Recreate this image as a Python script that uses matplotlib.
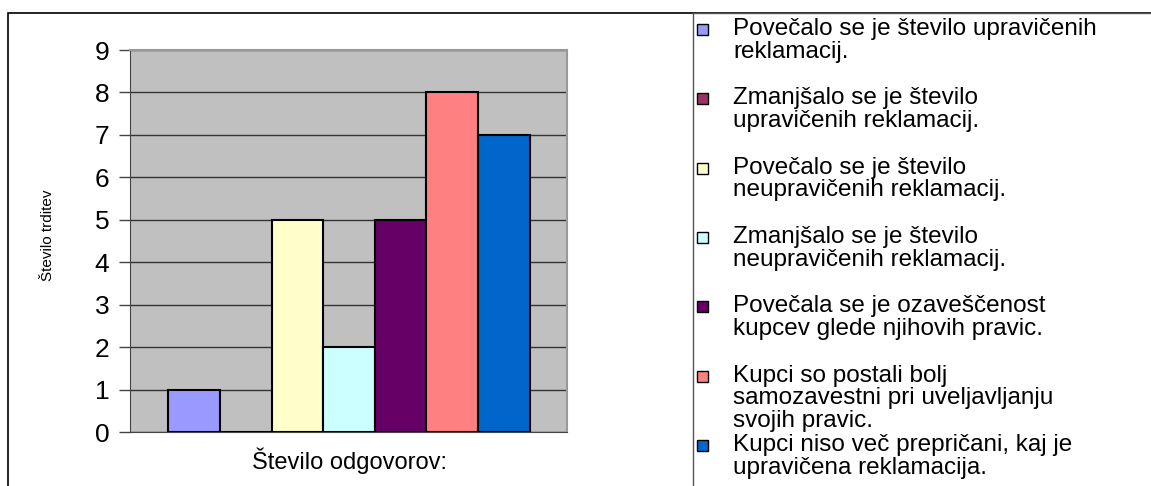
import matplotlib.pyplot as plt
from matplotlib.patches import Rectangle

plt.rcParams['font.family'] = ['Liberation Sans', 'DejaVu Sans']

# data
labels = [
    "Povečalo se je število upravičenih\nreklamacij.",
    "Zmanjšalo se je število\nupravičenih reklamacij.",
    "Povečalo se je število\nneupravičenih reklamacij.",
    "Zmanjšalo se je število\nneupravičenih reklamacij.",
    "Povečala se je ozaveščenost\nkupcev glede njihovih pravic.",
    "Kupci so postali bolj\nsamozavestni pri uveljavljanju\nsvojih pravic.",
    "Kupci niso več prepričani, kaj je\nupravičena reklamacija.",
]
values = [1, 0, 5, 2, 5, 8, 7]
colors = ['#9999FF', '#993366', '#FFFFCC', '#CCFFFF', '#660066', '#FF8080', '#0066CC']
yticks = list(range(0, 10))
category = "Število odgovorov:"
ylabel = "Število trditev"

W, H = 1151, 486
fig = plt.figure(figsize=(W / 100, H / 100), dpi=100)

# outer chart border and legend box (run past the image edge like the original)
fig.patches.append(Rectangle((8 / W, -0.1), 1.2, 1 - 13 / H + 0.1, transform=fig.transFigure,
                             fill=False, edgecolor='black', linewidth=1.2))
fig.patches.append(Rectangle((693 / W, -0.1), 1.2, 1 - 13 / H + 0.1, transform=fig.transFigure,
                             fill=False, edgecolor='#555555', linewidth=1.0))

ax = fig.add_axes([130 / W, 54 / H, 437 / W, 382 / H])
ax.set_facecolor('#C0C0C0')
xs = list(range(len(values)))
ax.bar(xs, values, width=1.0, color=colors, edgecolor='black', linewidth=1.5, zorder=3)
ax.set_ylim(0, 9)
ax.set_xlim(-0.5 - 0.74, len(values) - 0.5 + 0.72)
ax.set_yticks(yticks)
ax.set_yticklabels([str(t) for t in yticks], fontsize=19)
ax.yaxis.grid(True, color='#333333', linewidth=1.0, zorder=0)
ax.set_axisbelow(True)
ax.set_xticks([])
ax.tick_params(axis='y', length=8, width=1, color='#444444', pad=7)
for s in ['top', 'right']:
    ax.spines[s].set_color('#999999')
    ax.spines[s].set_linewidth(1.5)
ax.spines['left'].set_color('#444444')
ax.spines['bottom'].set_color('#444444')

fig.text(350 / W, 1 - 461 / H, category, ha='center', va='center', fontsize=17)
fig.text(48 / W, 1 - 235 / H, ylabel, ha='center', va='center', rotation=90, fontsize=11)

# legend entries, evenly spaced as in the original
for i, (lab, col) in enumerate(zip(labels, colors)):
    y = 30 + i * 69.3
    fig.patches.append(Rectangle((697 / W, 1 - (y + 5) / H), 11 / W, 11 / H,
                                 transform=fig.transFigure, facecolor=col,
                                 edgecolor='black', linewidth=1.0))
    fig.text(733 / W, 1 - (y - 12) / H, lab, ha='left', va='top', fontsize=17.5,
             linespacing=1.05)

fig.savefig("out.png", dpi=100)
